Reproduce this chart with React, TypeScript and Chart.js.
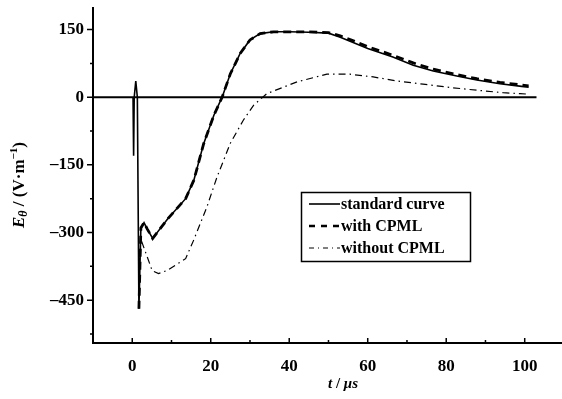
import React, { useEffect, useRef } from "react";
import { Chart, registerables } from "chart.js";

Chart.register(...registerables);

// ---------- data ----------
const zeroT = [-10, 103];
const zeroV = [0, 0];

const standardT = [0.2, 0.35, 0.5, 0.9, 1.3, 1.7, 2.2, 3.0, 3.8, 5.2, 9, 13.6, 15.7, 18.2, 20.8, 22.9, 25, 27.5, 30, 32.6, 36, 40, 45, 50, 53, 55.5, 60, 66.4, 71.6, 76.7, 82.7, 87.8, 93.7, 99.2, 101];
const standardV = [0, -130, 0, 36, 0, -469, -290, -278, -292, -313, -270, -225, -184, -103, -40, 0, 52, 97, 127, 141, 145, 145, 144, 142, 133, 124, 108, 89, 71, 58, 47, 38, 30, 24, 22];

const cpmlT = [1.7, 2.2, 3.0, 3.8, 5.2, 9, 13.6, 15.7, 18.2, 20.8, 22.9, 25, 27.5, 30, 32.6, 36, 40, 45, 50, 53, 55.5, 60, 66.4, 71.6, 76.7, 82.7, 87.8, 93.7, 99.2, 101];
const cpmlV = [-469, -290, -278, -292, -313, -270, -225, -184, -103, -40, 0, 52, 97, 127, 141, 145, 145, 145, 143, 136, 128, 112, 93, 76, 62, 50, 41, 33, 27, 25];

const noCpmlT = [2.4, 3.4, 5.1, 6.7, 8.9, 13.6, 15.6, 19, 21.6, 25, 28.3, 30.9, 34.3, 42, 49.6, 55.5, 61.4, 67.4, 74.1, 81, 87.8, 94.5, 98.8, 100.5];
const noCpmlV = [-320, -344, -385, -391, -384, -358, -318, -244, -177, -102, -51, -18, 8, 34, 51, 51, 45, 36, 29, 21.5, 15.5, 10, 8, 7];

const xTickLabels = [0, 20, 40, 60, 80, 100];
const xMinorTicks = [-10, 10, 30, 50, 70, 90, 110];
const yTickLabels = [150, 0, -150, -300, -450];
const yMinorTicks = [75, -75, -225, -375, -525];

const legendLabels = ["standard curve", "with CPML", "without CPML"];

const SERIF = "'Liberation Serif', 'DejaVu Serif', serif";

const toXY = (t: number[], v: number[]) => t.map((x, i) => ({ x, y: v[i] }));

export default function App() {
  const ref = useRef<HTMLCanvasElement | null>(null);

  useEffect(() => {
    if (!ref.current) return;

    const overlay = {
      id: "overlay",
      afterDraw(chart: any) {
        const ctx = chart.ctx as CanvasRenderingContext2D;
        const xs = chart.scales.x;
        const ys = chart.scales.y;
        const ca = chart.chartArea;
        ctx.save();
        ctx.strokeStyle = "#000";
        ctx.fillStyle = "#000";
        // axes
        ctx.lineWidth = 2;
        ctx.beginPath();
        ctx.moveTo(ca.left, ca.top);
        ctx.lineTo(ca.left, ca.bottom);
        ctx.lineTo(ca.right, ca.bottom);
        ctx.stroke();
        // ticks
        ctx.lineWidth = 1.5;
        ctx.beginPath();
        xTickLabels.forEach((v) => {
          const px = xs.getPixelForValue(v);
          ctx.moveTo(px, ca.bottom);
          ctx.lineTo(px, ca.bottom - 5);
        });
        xMinorTicks.forEach((v) => {
          const px = xs.getPixelForValue(v);
          ctx.moveTo(px, ca.bottom);
          ctx.lineTo(px, ca.bottom - 3);
        });
        yTickLabels.forEach((v) => {
          const py = ys.getPixelForValue(v);
          ctx.moveTo(ca.left, py);
          ctx.lineTo(ca.left - 6, py);
        });
        yMinorTicks.forEach((v) => {
          const py = ys.getPixelForValue(v);
          ctx.moveTo(ca.left, py);
          ctx.lineTo(ca.left - 3, py);
        });
        ctx.stroke();

        // x title
        const xParts: [string, string][] = [
          ["t", `italic bold 15px ${SERIF}`],
          [" / ", `bold 15px ${SERIF}`],
          ["μs", `italic bold 15px ${SERIF}`],
        ];
        let total = 0;
        xParts.forEach(([s, f]) => { ctx.font = f; total += ctx.measureText(s).width; });
        let cx = 343 - total / 2;
        ctx.textBaseline = "middle";
        ctx.textAlign = "left";
        xParts.forEach(([s, f]) => { ctx.font = f; ctx.fillText(s, cx, 384); cx += ctx.measureText(s).width; });

        // y title rotated
        const yParts: [string, string, number][] = [
          ["E", `italic bold 17px ${SERIF}`, 0],
          ["θ", `italic bold 12px ${SERIF}`, 4],
          [" / (V·m", `bold 17px ${SERIF}`, 0],
          ["−1", `bold 11px ${SERIF}`, -6],
          [")", `bold 17px ${SERIF}`, 0],
        ];
        total = 0;
        yParts.forEach(([s, f]) => { ctx.font = f; total += ctx.measureText(s).width; });
        ctx.save();
        ctx.translate(20, 185);
        ctx.rotate(-Math.PI / 2);
        let ty = -total / 2;
        yParts.forEach(([s, f, dy]) => { ctx.font = f; ctx.fillText(s, ty, dy); ty += ctx.measureText(s).width; });
        ctx.restore();

        // legend
        const bx = 301, by = 192, bw = 169, bh = 69;
        ctx.lineWidth = 1.5;
        ctx.setLineDash([]);
        ctx.strokeRect(bx + 0.5, by + 0.5, bw, bh);
        const rows = [204, 226, 248];
        const styles = [
          { w: 1.6, dash: [] as number[] },
          { w: 2.5, dash: [6, 6] },
          { w: 1, dash: [5, 4, 1, 4] },
        ];
        ctx.font = `bold 16px ${SERIF}`;
        legendLabels.forEach((lab, i) => {
          ctx.lineWidth = styles[i].w;
          ctx.setLineDash(styles[i].dash);
          ctx.beginPath();
          ctx.moveTo(309, rows[i]);
          ctx.lineTo(340, rows[i]);
          ctx.stroke();
          ctx.setLineDash([]);
          ctx.fillText(lab, 341, rows[i] + 1);
        });
        ctx.restore();
      },
    };

    const chart = new Chart(ref.current, {
      type: "scatter",
      data: {
        datasets: [
          { label: "zero", data: toXY(zeroT, zeroV), showLine: true, borderColor: "#000", borderWidth: 2, pointRadius: 0 },
          { label: legendLabels[2], data: toXY(noCpmlT, noCpmlV), showLine: true, borderColor: "#000", borderWidth: 1.2, borderDash: [7, 4, 1.5, 4], pointRadius: 0 },
          { label: legendLabels[1], data: toXY(cpmlT, cpmlV), showLine: true, borderColor: "#000", borderWidth: 2.8, borderDash: [8, 5], pointRadius: 0 },
          { label: legendLabels[0], data: toXY(standardT, standardV), showLine: true, borderColor: "#000", borderWidth: 1.6, pointRadius: 0 },
        ],
      },
      options: {
        animation: false,
        responsive: false,
        layout: { padding: { top: 7, right: 0, left: 0, bottom: 0 } },
        plugins: { legend: { display: false }, tooltip: { enabled: false } },
        scales: {
          x: {
            type: "linear",
            min: -10,
            max: 109.5,
            grid: { display: false, drawTicks: false },
            border: { display: false },
            afterBuildTicks: (s: any) => { s.ticks = xTickLabels.map((v) => ({ value: v })); },
            afterFit: (s: any) => { s.height = 56; s.paddingLeft = 0; s.paddingRight = 0; },
            ticks: { color: "#000", padding: 13, maxRotation: 0, font: { family: SERIF, size: 17, weight: "bold" } },
          },
          y: {
            type: "linear",
            min: -545,
            max: 200,
            grid: { display: false, drawTicks: false },
            border: { display: false },
            afterBuildTicks: (s: any) => { s.ticks = yTickLabels.map((v) => ({ value: v })); },
            afterFit: (s: any) => { s.width = 93; s.paddingTop = 0; s.paddingBottom = 0; },
            ticks: {
              color: "#000",
              padding: 9,
              font: { family: SERIF, size: 17, weight: "bold" },
              callback: (v: any) => (Number(v) < 0 ? "–" + Math.abs(Number(v)) : String(v)),
            },
          },
        },
      },
      plugins: [overlay],
    });
    return () => chart.destroy();
  }, []);

  return (
    <div style={{ position: "fixed", left: 0, top: 0, width: 562, height: 399, background: "#fff" }}>
      <canvas ref={ref} width={562} height={399} style={{ display: "block" }} />
    </div>
  );
}
